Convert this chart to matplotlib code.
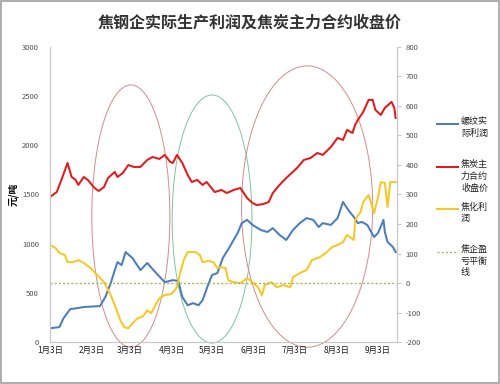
import matplotlib
matplotlib.use('Agg')
import matplotlib.pyplot as plt
import matplotlib.dates as mdates
from matplotlib.patches import Ellipse, Rectangle
from matplotlib.lines import Line2D
import pandas as pd
import datetime

plt.rcParams['font.family'] = ['Noto Sans CJK SC', 'DejaVu Sans']
plt.rcParams['axes.unicode_minus'] = False

# coke futures close (left axis, yuan/ton)
red_dates = ['01-03', '01-08', '01-12', '01-16', '01-19', '01-22', '01-24', '01-28', '01-31',
             '02-05', '02-08', '02-12', '02-15', '02-20', '02-22', '02-26', '03-02', '03-06',
             '03-11', '03-16', '03-20', '03-25', '03-29', '04-02', '04-04', '04-07', '04-11',
             '04-15', '04-18', '04-22', '04-26', '04-29', '05-05', '05-10', '05-14', '05-19',
             '05-24', '05-29', '06-02', '06-05', '06-10', '06-14', '06-17', '06-22', '06-27',
             '07-01', '07-05', '07-10', '07-15', '07-20', '07-24', '07-30', '08-04', '08-08',
             '08-11', '08-15', '08-17', '08-19', '08-23', '08-27', '08-30', '09-01', '09-05',
             '09-08', '09-13', '09-15', '09-16']
red_vals = [1475, 1525, 1668, 1820, 1678, 1648, 1597, 1678, 1648,
            1566, 1536, 1576, 1668, 1729, 1678, 1719, 1800, 1780,
            1780, 1851, 1881, 1861, 1902, 1831, 1820, 1902, 1820,
            1698, 1627, 1648, 1597, 1627, 1525, 1546, 1515, 1546,
            1566, 1464, 1414, 1393, 1403, 1424, 1515, 1597, 1668,
            1719, 1770, 1851, 1871, 1922, 1902, 1983, 2075, 2054,
            2156, 2125, 2207, 2258, 2339, 2461, 2461, 2359, 2308,
            2380, 2441, 2380, 2278]

# rebar actual profit (right axis)
blue_dates = ['01-03', '01-10', '01-13', '01-18', '01-23', '01-28', '02-09', '02-13', '02-17',
              '02-20', '02-22', '02-25', '02-28', '03-05', '03-11', '03-16', '03-22', '03-29',
              '04-04', '04-08', '04-11', '04-15', '04-19', '04-23', '04-26', '04-30', '05-03',
              '05-07', '05-11', '05-16', '05-22', '05-25', '05-29', '06-02', '06-08', '06-13',
              '06-17', '06-22', '06-27', '07-02', '07-07', '07-12', '07-17', '07-21', '07-24',
              '07-30', '08-04', '08-08', '08-12', '08-16', '08-19', '08-22', '08-26', '08-31',
              '09-03', '09-07', '09-08', '09-10', '09-14', '09-16']
blue_vals = [-153, -149, -119, -88, -85, -81, -78, -47, 0,
             44, 71, 61, 105, 85, 44, 68, 37, 3,
             10, 7, -47, -75, -68, -75, -58, -7, 27,
             34, 85, 122, 170, 203, 214, 197, 180, 173,
             186, 163, 146, 180, 203, 220, 214, 190, 203,
             197, 220, 275, 247, 224, 203, 207, 197, 156,
             170, 214, 173, 139, 122, 105]

# coking profit (right axis)
yellow_dates = ['01-03', '01-07', '01-10', '01-14', '01-16', '01-20', '01-24', '01-28', '02-02',
                '02-07', '02-12', '02-17', '02-20', '02-24', '02-27', '03-02', '03-06', '03-09',
                '03-13', '03-16', '03-19', '03-22', '03-25', '03-29', '04-03', '04-07', '04-09',
                '04-12', '04-15', '04-21', '04-24', '04-26', '04-30', '05-04', '05-07', '05-09',
                '05-13', '05-15', '05-19', '05-24', '05-29', '06-02', '06-06', '06-09', '06-11',
                '06-16', '06-20', '06-25', '06-30', '07-02', '07-07', '07-12', '07-16', '07-22',
                '07-27', '07-31', '08-04', '08-08', '08-11', '08-16', '08-17', '08-21', '08-23',
                '08-27', '08-31', '09-03', '09-05', '09-08', '09-10', '09-12', '09-16']
yellow_vals = [129, 119, 102, 95, 71, 71, 78, 68, 51,
               27, 3, -41, -75, -125, -149, -153, -132, -119,
               -112, -92, -102, -75, -51, -41, -37, -14, 27,
               78, 105, 105, 95, 71, 75, 71, 51, 54,
               51, 10, 3, 0, 17, 3, -14, -41, -7,
               3, -14, -7, -14, 20, 34, 44, 78, 88,
               105, 122, 129, 139, 163, 146, 214, 241, 275,
               298, 237, 292, 342, 339, 258, 342, 342]

labels = ['螺纹实\n际利润', '焦炭主\n力合约\n收盘价', '焦化利\n润', '焦企盈\n亏平衡\n线']
colors = ['#4a7ebb', '#e3191c', '#f7c823', '#a9b45c']
title = '焦钢企实际生产利润及焦炭主力合约收盘价'
month_ticks = [datetime.date(2017, m, 3) for m in range(1, 10)]


def to_dates(lst):
    return pd.to_datetime(['2017-' + s for s in lst])


fig = plt.figure(figsize=(5, 3.84), dpi=100)
ax = fig.add_axes([0.1, 0.109, 0.694, 0.769])
ax2 = ax.twinx()

ax.plot(to_dates(red_dates), red_vals, color=colors[1], lw=1.45)
ax2.plot(to_dates(blue_dates), blue_vals, color=colors[0], lw=1.45)
ax2.plot(to_dates(yellow_dates), yellow_vals, color=colors[2], lw=1.45)
ax2.axhline(0, color=colors[3], lw=1.0, ls=(0, (1.5, 1.5)))

ax.set_ylim(0, 3000)
ax.set_yticks(range(0, 3001, 500))
ax2.set_ylim(-200, 800)
ax2.set_yticks(range(-200, 801, 100))
ax.set_xlim(datetime.date(2017, 1, 3), datetime.date(2017, 9, 17))
ax.set_xticks(month_ticks)
ax.xaxis.set_major_formatter(plt.FuncFormatter(
    lambda v, p: '%d月%d日' % (mdates.num2date(v).month, mdates.num2date(v).day)))

for a in (ax, ax2):
    for s in a.spines.values():
        s.set_color('#c8c8c8')
        s.set_linewidth(0.8)
    a.spines['top'].set_visible(False)
ax.tick_params(axis='y', length=0, labelsize=5.5, labelcolor='#505050', pad=8)
ax.tick_params(axis='x', length=0, labelsize=6, labelcolor='#202020', pad=3)
ax2.tick_params(axis='y', length=3, color='#c8c8c8', labelsize=5.5, labelcolor='#505050', pad=3)
ax.set_ylabel('元/吨', fontsize=7, fontweight='bold', labelpad=2)

# hand-drawn highlight ellipses
for cx, cy, w, h, c in [(0.233, 0.427, 0.225, 0.888, '#d48a8a'),
                        (0.467, 0.417, 0.23, 0.84, '#7cc59a'),
                        (0.741, 0.459, 0.378, 0.953, '#d48a8a')]:
    ax.add_patch(Ellipse((cx, cy), w, h, transform=ax.transAxes, fill=False,
                         edgecolor=c, lw=0.7, clip_on=False))

fig.suptitle(title, x=0.5, y=0.962, fontsize=11.5, fontweight='bold', color='#333333')

# legend to the right
styles = ['-', '-', '-', (0, (1.5, 1.5))]
ys = [124, 167, 209, 252]
for lab, c, st, y in zip(labels, colors, styles, ys):
    yf = 1 - y / 384
    fig.add_artist(Line2D([0.874, 0.916], [yf, yf], color=c, ls=st,
                          lw=1.45 if st == '-' else 1.0, transform=fig.transFigure))
    fig.text(0.922, yf + 0.018, lab, fontsize=6.5, va='top', ha='left',
             linespacing=1.35, color='#202020')

fig.add_artist(Rectangle((0.002, 0.003), 0.995, 0.994, transform=fig.transFigure,
                         fill=False, edgecolor='#a0a0a0', lw=1.2))

plt.savefig('out.png', dpi=100)
plt.close()
